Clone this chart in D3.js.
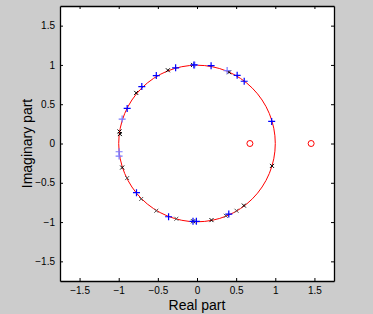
<!DOCTYPE html>
<html>
<head>
<meta charset="utf-8">
<script src="https://cdn.jsdelivr.net/npm/d3@7"></script>
<style>
  body { margin: 0; background: #cccccc; }
  svg { display: block; font-family: "Liberation Sans", Arial, sans-serif; }
</style>
</head>
<body>
<div id="chart"></div>
<script>
// zeros (o), poles (+) and their partners (x)
const zeroRe = [0.676, 1.458];
const zeroIm = [0, 0];

const plusDark = [
  [-0.273, 0.963], [-0.52, 0.865], [-0.705, 0.724], [-0.892, 0.447],
  [-0.04, 1.0], [0.18, 0.99], [0.513, 0.868], [0.603, 0.792], [0.954, 0.281],
  [-0.773, -0.626], [-0.363, -0.932], [0.406, -0.898],
  [-0.051, -0.99], [-0.008, -0.99]
];
const plusLight = [
  [-0.956, 0.311], [0.385, 0.928], [-0.995, -0.105], [-0.995, -0.16],
  [-0.03, 1.0]
];
const crossDark = [
  [-0.372, 0.932], [-0.777, 0.644], [-0.99, 0.153], [-0.985, 0.12],
  [-0.05, 1.0], [0.41, 0.907], [0.958, -0.285], [0.599, -0.79],
  [-0.956, -0.306], [-0.05, -0.99], [0.185, -0.975]
];
const crossLight = [
  [-0.892, -0.44], [-0.713, -0.706], [-0.52, -0.856], [-0.264, -0.958],
  [0.505, -0.856], [0.368, -0.92]
];

const ticks = [-1.5, -1, -0.5, 0, 0.5, 1, 1.5];
const domainX = [-1.75, 1.75];
const domainY = [-1.75, 1.75];

const width = 373, height = 314;
const margin = { top: 6, right: 39, bottom: 33, left: 60 };

const svg = d3.select("#chart").append("svg")
  .attr("width", width)
  .attr("height", height);

const x = d3.scaleLinear().domain(domainX).range([margin.left, width - margin.right]);
const y = d3.scaleLinear().domain(domainY).range([height - margin.bottom, margin.top]);

// axes area
svg.append("rect")
  .attr("x", margin.left).attr("y", margin.top)
  .attr("width", width - margin.left - margin.right)
  .attr("height", height - margin.top - margin.bottom)
  .attr("fill", "#fff");

const tickLen = 3;
const gx = svg.append("g")
  .attr("transform", `translate(0,${height - margin.bottom})`)
  .call(d3.axisBottom(x).tickValues(ticks).tickSizeInner(-tickLen).tickSizeOuter(0).tickPadding(6).tickFormat(d3.format("")));
const gxTop = svg.append("g")
  .attr("transform", `translate(0,${margin.top})`)
  .call(d3.axisTop(x).tickValues(ticks).tickSizeInner(-tickLen).tickSizeOuter(0).tickFormat(""));
const gy = svg.append("g")
  .attr("transform", `translate(${margin.left},0)`)
  .call(d3.axisLeft(y).tickValues(ticks).tickSizeInner(-tickLen).tickSizeOuter(0).tickPadding(5).tickFormat(d3.format("")));
const gyRight = svg.append("g")
  .attr("transform", `translate(${width - margin.right},0)`)
  .call(d3.axisRight(y).tickValues(ticks).tickSizeInner(-tickLen).tickSizeOuter(0).tickFormat(""));

[gx, gxTop, gy, gyRight].forEach(g => {
  g.select(".domain").attr("stroke", "#000").attr("stroke-width", 1.3);
  g.selectAll(".tick line").attr("stroke", "#000");
  g.selectAll("text").attr("font-size", 10).attr("fill", "#000")
    .attr("font-family", "Liberation Sans, Arial, sans-serif");
});

// unit circle
svg.append("circle")
  .attr("cx", x(0)).attr("cy", y(0))
  .attr("r", x(1) - x(0))
  .attr("fill", "none")
  .attr("stroke", "#ff0000")
  .attr("stroke-width", 1);

// zeros
svg.selectAll("circle.zero")
  .data(d3.zip(zeroRe, zeroIm))
  .join("circle")
  .attr("class", "zero")
  .attr("cx", d => x(d[0])).attr("cy", d => y(d[1]))
  .attr("r", 3)
  .attr("fill", "none")
  .attr("stroke", "#ff0000")
  .attr("stroke-width", 1);

function plus(data, color, s) {
  svg.append("g").selectAll("path")
    .data(data)
    .join("path")
    .attr("d", d => `M${x(d[0]) - s},${y(d[1])}h${2 * s}M${x(d[0])},${y(d[1]) - s}v${2 * s}`)
    .attr("stroke", color)
    .attr("stroke-width", 1.2)
    .attr("fill", "none");
}
function cross(data, color, s) {
  svg.append("g").selectAll("path")
    .data(data)
    .join("path")
    .attr("d", d => `M${x(d[0]) - s},${y(d[1]) - s}l${2 * s},${2 * s}M${x(d[0]) - s},${y(d[1]) + s}l${2 * s},${-2 * s}`)
    .attr("stroke", color)
    .attr("stroke-width", 1)
    .attr("fill", "none");
}
cross(crossLight, "#555", 2);
cross(crossDark, "#000", 2);
plus(plusLight, "#7a7aff", 3.5);
plus(plusDark, "#0000ff", 3.5);

// axis labels
svg.append("text")
  .attr("x", x(0)).attr("y", 310)
  .attr("text-anchor", "middle")
  .attr("font-size", 14)
  .text("Real part");
svg.append("text")
  .attr("transform", `translate(32,${y(0)}) rotate(-90)`)
  .attr("text-anchor", "middle")
  .attr("font-size", 14)
  .text("Imaginary part");
</script>
</body>
</html>
